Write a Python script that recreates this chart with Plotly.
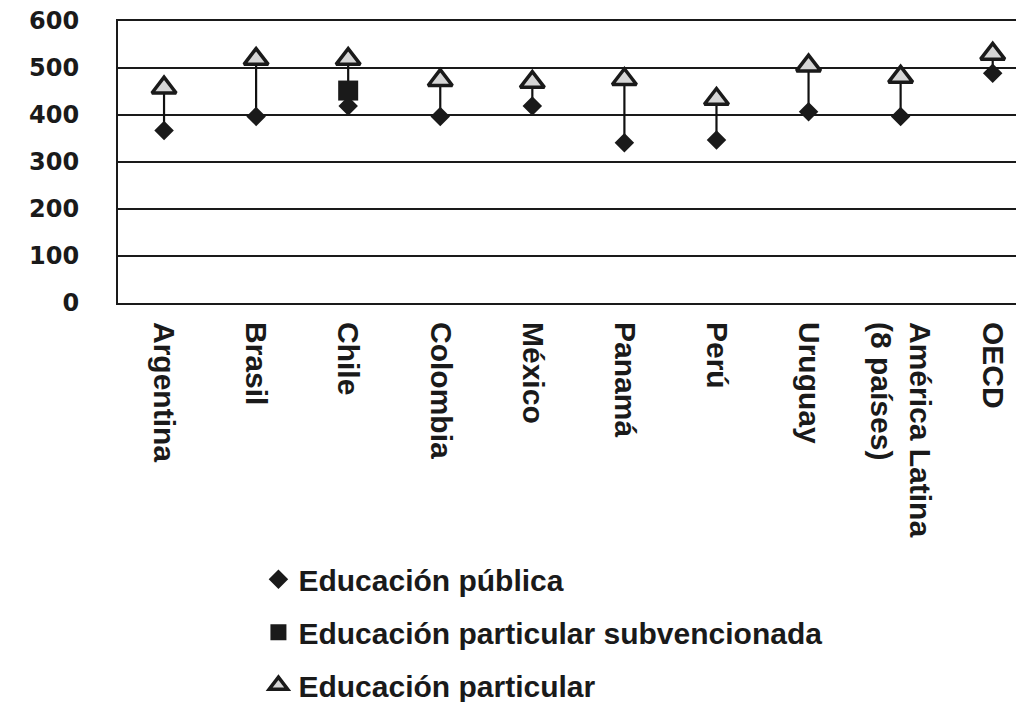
import plotly.graph_objects as go

categories = ["Argentina", "Brasil", "Chile", "Colombia", "México", "Panamá",
              "Perú", "Uruguay", "América Latina<br>(8 países)", "OECD"]
publica = [367, 397, 419, 397, 419, 341, 347, 407, 397, 489]
subvencionada = [None, None, 452, None, None, None, None, None, None, None]
particular = [458, 519, 519, 474, 470, 476, 434, 505, 481, 530]
ytick_values = [0, 100, 200, 300, 400, 500, 600]

TICKFONT = "Liberation Sans"
NUMFONT = "DejaVu Sans"

# high-low connector lines
lx, ly = [], []
for c, lo, hi in zip(categories, publica, particular):
    lx += [c, c, None]
    ly += [lo, hi, None]

fig = go.Figure()
fig.add_trace(go.Scatter(x=lx, y=ly, mode="lines", line=dict(color="#111111", width=2.2),
                         showlegend=False, hoverinfo="skip"))
fig.add_trace(go.Scatter(x=categories, y=publica, mode="markers", name="Educación pública",
                         legendgroup="a",
                         marker=dict(symbol="diamond", size=15, color="#1a1a1a",
                                     line=dict(width=0))))
fig.add_trace(go.Scatter(x=categories, y=subvencionada, mode="markers",
                         name="Educación particular subvencionada", legendgroup="b",
                         marker=dict(symbol="square", size=20, color="#1a1a1a",
                                     line=dict(width=0))))
fig.add_trace(go.Scatter(x=categories, y=particular, mode="markers", name="Educación particular",
                         legendgroup="c",
                         marker=dict(symbol="triangle-up", size=21, color="#d6d6d6",
                                     line=dict(width=3.5, color="#1a1a1a"))))

fig.update_layout(
    width=1016, height=694,
    margin=dict(l=110, r=0, t=13, b=399, autoexpand=False),
    paper_bgcolor="white", plot_bgcolor="white",
    font=dict(family=TICKFONT, color="#1a1a1a"),
    showlegend=True,
    legend=dict(x=0.155, y=-0.887, xanchor="left", yanchor="top",
                font=dict(family=TICKFONT, size=30, color="#1a1a1a", weight="bold"),
                tracegroupgap=11, bgcolor="rgba(0,0,0,0)"),
    xaxis=dict(type="category", range=[-0.5, 9.34], showgrid=False, automargin=False,
               showline=True, mirror=True, linecolor="#1a1a1a", linewidth=2,
               ticks="", tickangle=90, ticklabelstandoff=11,
               tickfont=dict(family=TICKFONT, size=30, color="#1a1a1a", weight="bold"),
               zeroline=False),
    yaxis=dict(range=[0, 600], tickvals=ytick_values, automargin=False,
               ticklabeloverflow="allow",
               showgrid=True, gridcolor="#1a1a1a", gridwidth=1.8,
               showline=True, linecolor="#1a1a1a", linewidth=2,
               ticks="", ticklabelstandoff=32,
               tickfont=dict(family=NUMFONT, size=24, color="#1a1a1a", weight="bold"),
               zeroline=False),
    hovermode=False,
)

fig.write_html("out.html")
